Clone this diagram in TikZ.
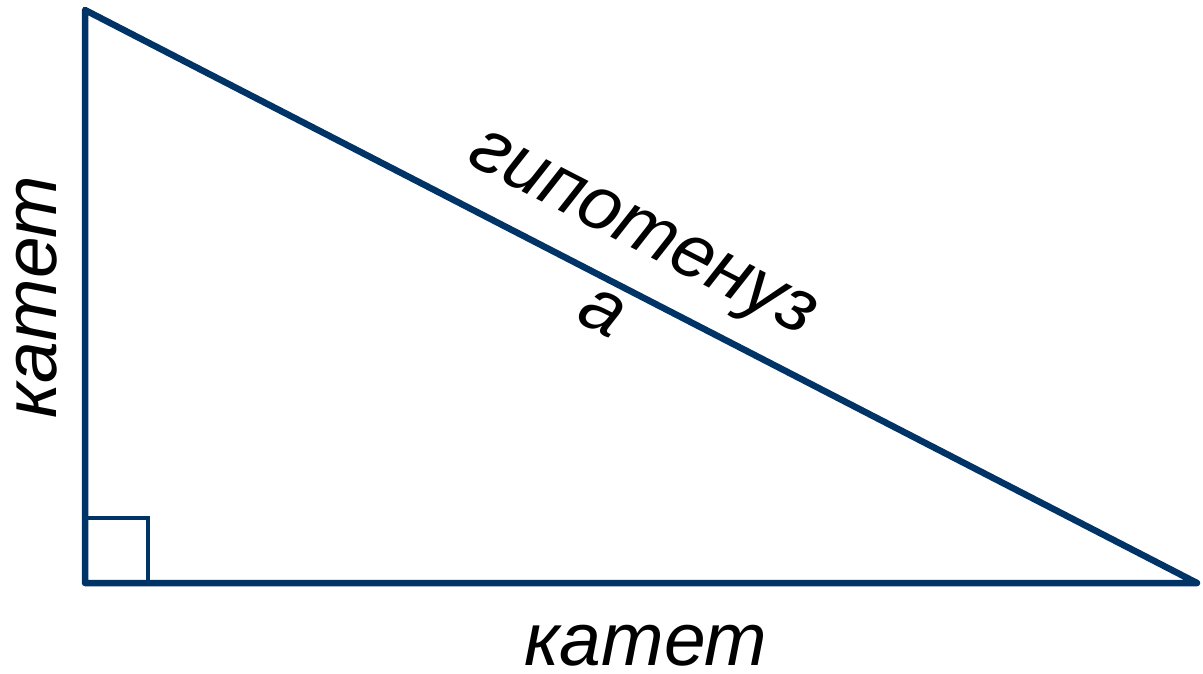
\documentclass[tikz,border=0pt]{standalone}
\usepackage{fontspec}
\setmainfont{Liberation Sans}
\definecolor{tri}{RGB}{0,51,102}
\tikzset{
  side/.style={draw=tri, line width=6.5pt, line join=round},
  mark90/.style={draw=tri, line width=4pt},
  lbl/.style={font=\fontsize{75}{90}\selectfont\itshape, inner sep=0pt}
}
\begin{document}
\begin{tikzpicture}[x=1pt,y=-1pt]
\useasboundingbox (0,0) rectangle (1203,673);
\coordinate (A) at (85,10);
\coordinate (C) at (85,583);
\coordinate (B) at (1197,583);
\coordinate (S1) at (85,518);
\coordinate (S2) at (148,518);
\coordinate (S3) at (148,583);
\draw[mark90] (S1) -- (S2) -- (S3);
\draw[side] (A) -- (C) -- (B) -- cycle;
\node[lbl, anchor=base, rotate=90] (leg1) at (56,297) {катет};
\node[lbl, anchor=base] (leg2) at (646,665) {катет};
\node[lbl, align=center, rotate=-27.2] (hyp) at (623,272) {гипотенуз\\а};
\end{tikzpicture}
\end{document}
